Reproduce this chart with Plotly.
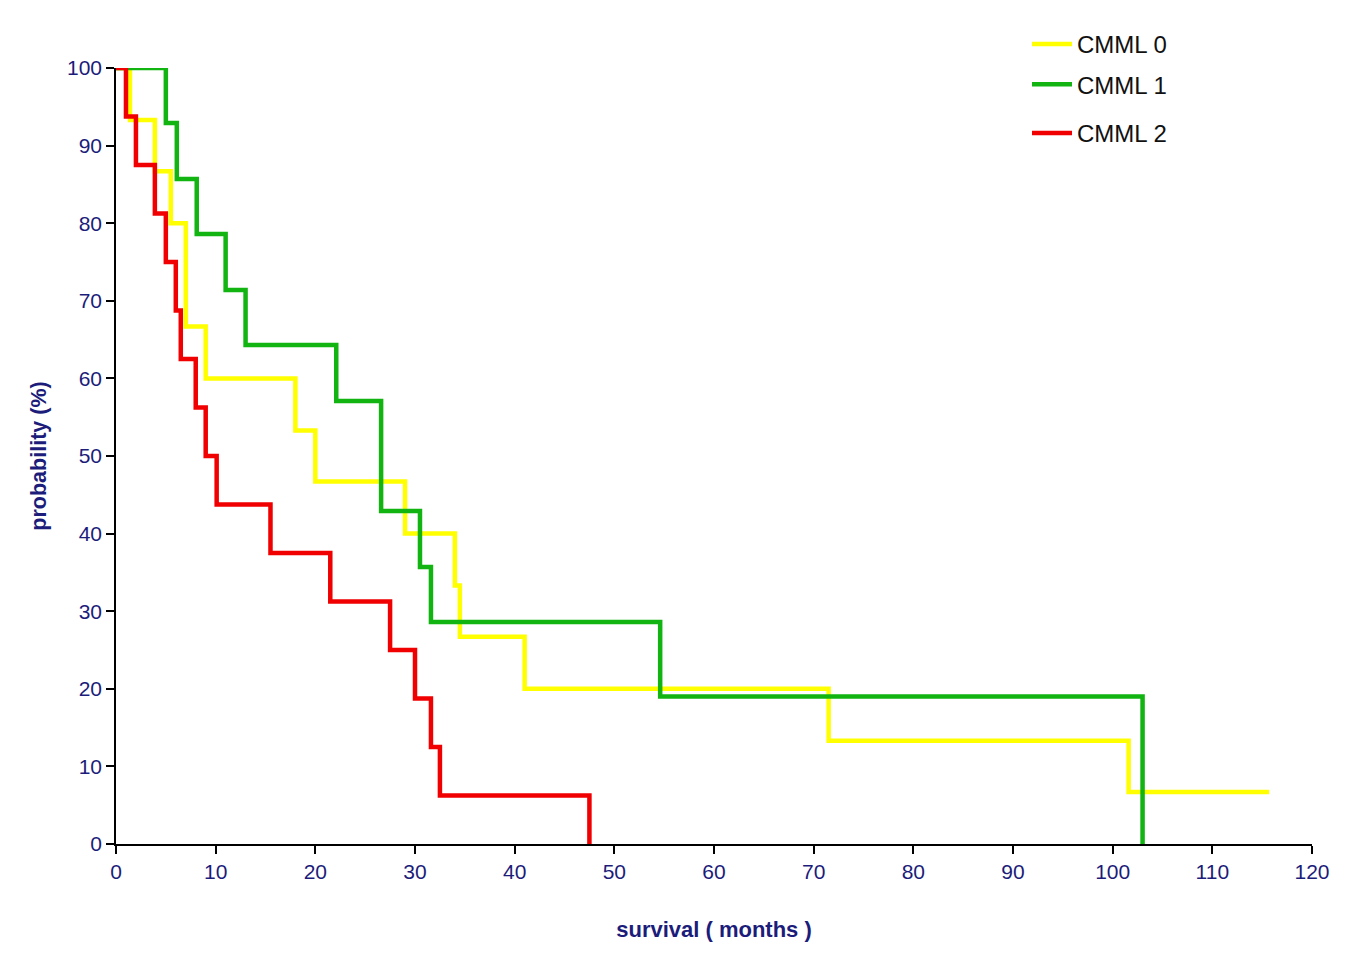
import plotly.graph_objects as go

# ---- data ----
cmml0_t = [0, 1.4, 3.9, 5.5, 7.0, 9.0, 18.0, 20.0, 29.0, 34.0, 34.5, 41.0, 71.5, 101.6, 115.7]
cmml0_s = [100, 93.3, 86.7, 80.0, 66.7, 60.0, 53.3, 46.7, 40.0, 33.3, 26.7, 20.0, 13.3, 6.7, 6.7]

cmml1_t = [0, 5.0, 6.1, 8.1, 11.0, 13.0, 22.1, 26.6, 30.5, 31.6, 54.6, 103.0]
cmml1_s = [100, 92.9, 85.7, 78.6, 71.4, 64.3, 57.1, 42.9, 35.7, 28.6, 19.0, 0]

cmml2_t = [0, 1.0, 2.0, 3.9, 5.0, 6.0, 6.5, 8.0, 9.0, 10.1, 15.5, 21.5, 27.5, 30.0, 31.6, 32.5, 47.5]
cmml2_s = [100, 93.75, 87.5, 81.25, 75.0, 68.75, 62.5, 56.25, 50.0, 43.75, 37.5, 31.25, 25.0, 18.75, 12.5, 6.25, 0]

series_names = ["CMML 0", "CMML 1", "CMML 2"]
x_ticks = list(range(0, 121, 10))
y_ticks = list(range(0, 101, 10))

# ---- styling ----
NAVY = "#1c1c7a"
FONT = "Arial, Liberation Sans, sans-serif"
colors = ["#ffff00", "#12b412", "#f00000"]
LW = 4.5

fig = go.Figure()
fig.add_trace(go.Scatter(x=cmml0_t, y=cmml0_s, name=series_names[0], mode="lines",
                         line=dict(color=colors[0], width=LW, shape="hv"), cliponaxis=False,
                         legend="legend", legendgroup="a"))
fig.add_trace(go.Scatter(x=cmml1_t, y=cmml1_s, name=series_names[1], mode="lines",
                         line=dict(color=colors[1], width=LW, shape="hv"), cliponaxis=False,
                         legend="legend", legendgroup="b"))
fig.add_trace(go.Scatter(x=cmml2_t, y=cmml2_s, name=series_names[2], mode="lines",
                         line=dict(color=colors[2], width=LW, shape="hv"), cliponaxis=False,
                         legend="legend2", legendgroup="c"))

# page has an 8px body margin, so the figure is 8px smaller and shifted
OFF = 8
W, H = 1366 - OFF, 980 - OFF
L, R, T, B = 116 - OFF, 54, 68 - OFF, 136
pw, ph = W - L - R, H - T - B

def px_x(p):
    return (p - OFF - L) / pw

def px_y(p):
    return (H - B - (p - OFF)) / ph

IW = 40
legend_common = dict(font=dict(family=FONT, size=24, color="#111111"),
                     bgcolor="rgba(0,0,0,0)", borderwidth=0, itemwidth=IW,
                     xanchor="left", yanchor="top", traceorder="grouped", tracegroupgap=6)

fig.update_layout(
    width=W, height=H,
    margin=dict(l=L, r=R, t=T, b=B, autoexpand=False),
    paper_bgcolor="white", plot_bgcolor="white",
    font=dict(family=FONT),
    legend=dict(x=px_x(1077 - IW - 10), y=px_y(22), **legend_common),
    legend2=dict(x=px_x(1077 - IW - 10), y=px_y(111), **legend_common),
)

fig.update_xaxes(range=[0, 120], tickvals=x_ticks, ticks="outside", ticklen=8, tickwidth=1.5,
                 tickcolor="black", showline=True, linecolor="black", linewidth=1.5,
                 showgrid=False, zeroline=False,
                 tickfont=dict(family=FONT, size=21, color=NAVY),
                 title=dict(text="survival ( months )", standoff=40,
                            font=dict(family=FONT, size=22, color=NAVY, weight="bold")))
fig.update_yaxes(range=[0, 100], tickvals=y_ticks, ticks="outside", ticklen=8, tickwidth=1.5,
                 tickcolor="black", showline=True, linecolor="black", linewidth=1.5,
                 showgrid=False, zeroline=False,
                 tickfont=dict(family=FONT, size=21, color=NAVY),
                 title=dict(text="probability (%)", standoff=14,
                            font=dict(family=FONT, size=21.5, color=NAVY, weight="bold")))

fig.write_html("out.html")
